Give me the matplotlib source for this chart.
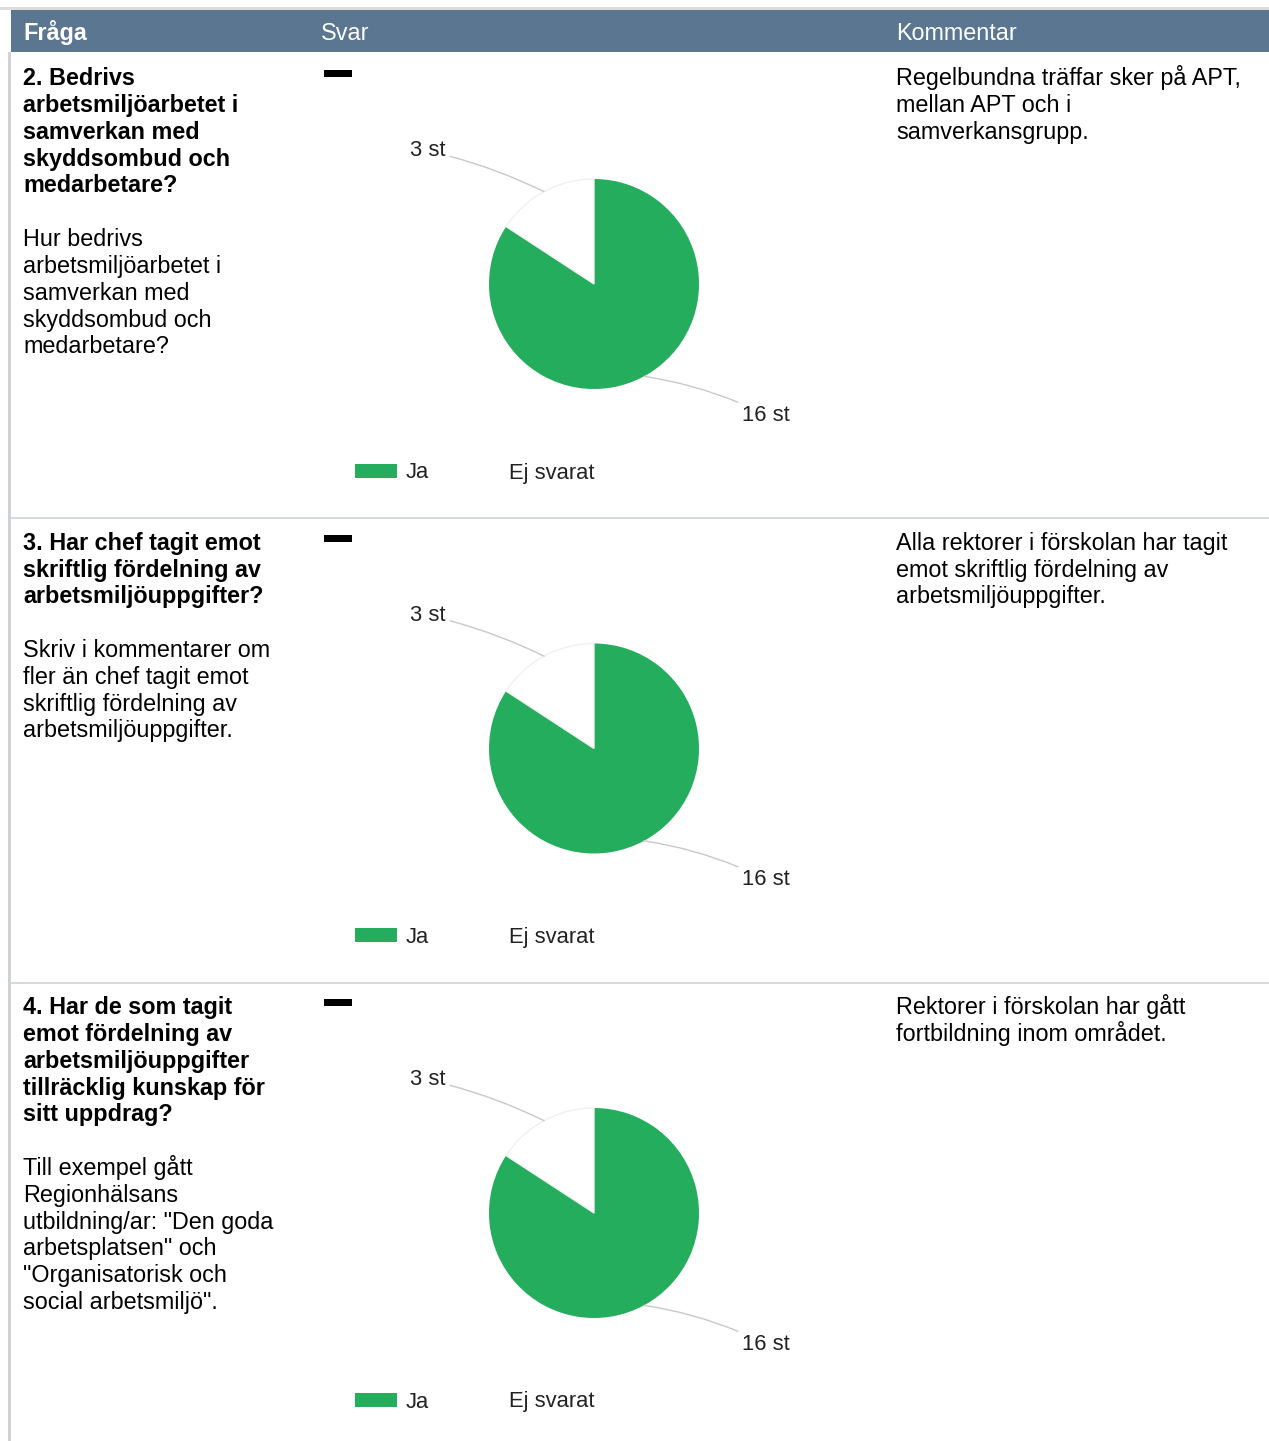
"""
Survey table: three questions, each with a pie chart of answers (Ja / Ej svarat)
and a free-text comment. Drawn in pixel layout on a 1269x1441 figure.
"""
import matplotlib.pyplot as plt
from matplotlib.patches import Rectangle, Patch
import numpy as np

W, H = 1269, 1441
DPI = 100

# --- data -------------------------------------------------------------------
headers = ['Fråga', 'Svar', 'Kommentar']
answer_labels = ['Ja', 'Ej svarat']
counts_ja = [16, 16, 16]
counts_ej = [3, 3, 3]
value_suffix = ' st'

question_titles = [
    ['2. Bedrivs', 'arbetsmiljöarbetet i', 'samverkan med',
     'skyddsombud och', 'medarbetare?'],
    ['3. Har chef tagit emot', 'skriftlig fördelning av',
     'arbetsmiljöuppgifter?'],
    ['4. Har de som tagit', 'emot fördelning av', 'arbetsmiljöuppgifter',
     'tillräcklig kunskap för', 'sitt uppdrag?'],
]
question_help = [
    ['Hur bedrivs', 'arbetsmiljöarbetet i', 'samverkan med',
     'skyddsombud och', 'medarbetare?'],
    ['Skriv i kommentarer om', 'fler än chef tagit emot',
     'skriftlig fördelning av', 'arbetsmiljöuppgifter.'],
    ['Till exempel gått', 'Regionhälsans', 'utbildning/ar: "Den goda',
     'arbetsplatsen" och', '"Organisatorisk och', 'social arbetsmiljö".'],
]
comments = [
    ['Regelbundna träffar sker på APT,', 'mellan APT och i',
     'samverkansgrupp.'],
    ['Alla rektorer i förskolan har tagit', 'emot skriftlig fördelning av',
     'arbetsmiljöuppgifter.'],
    ['Rektorer i förskolan har gått', 'fortbildning inom området.'],
]

# --- style ------------------------------------------------------------------
FONT = 'Liberation Sans'
TXT_PT = 23.4 * 72 / DPI       # ~23 px body text
LINE = 26.8                     # px between lines
HEADER_BG = '#5a7690'
GREEN = '#25ad5e'
BORDER = '#cfd3d7'
CHART_PT = 22 * 72 / DPI
CHART_TXT = '#222222'

plt.rcParams['font.family'] = [FONT, 'DejaVu Sans']

fig = plt.figure(figsize=(W / DPI, H / DPI), dpi=DPI)
fig.patch.set_facecolor('white')


def fx(x):
    return x / W


def fy(y):
    return 1 - y / H


def rect(x0, y0, x1, y1, color):
    fig.patches.append(Rectangle((fx(x0), fy(y1)), fx(x1) - fx(x0), fy(y0) - fy(y1),
                                 transform=fig.transFigure, color=color, lw=0))


def lines_at(x, y_center, lines, weight='normal', color='black'):
    for i, s in enumerate(lines):
        fig.text(fx(x), fy(y_center + i * LINE + 8.3), s, fontsize=TXT_PT,
                 fontweight=weight, color=color, ha='left', va='baseline')


# table frame
rect(0, 7, W, 10, '#dcdcdc')
rect(11, 10, W, 52, HEADER_BG)
rect(8, 52, 11, H, BORDER)
for y in (517, 982):
    rect(11, y, W, y + 2, '#d6dade')

# header
header_x = [23, 321, 896]
for hx, h, wgt in zip(header_x, headers, ['bold', 'normal', 'normal']):
    fig.text(fx(hx), fy(32 + 8.3), h, fontsize=TXT_PT, fontweight=wgt,
             color='white', ha='left', va='baseline')

ROW_STEP = 464.5
R = 105
for i in range(3):
    off = i * ROW_STEP
    # question text
    first = 77 + off
    lines_at(23, first, question_titles[i], weight='bold')
    lines_at(23, first + (len(question_titles[i]) + 1) * LINE, question_help[i])
    # comment
    lines_at(896, first, comments[i])
    # collapse dash
    rect(324, 70 + off, 352, 77 + off, 'black')

    # pie
    cx, cy = 594, 284 + off
    ax = fig.add_axes([fx(cx - R), fy(cy + R), 2 * R / W, 2 * R / H])
    vals = [counts_ja[i], counts_ej[i]]
    wedges, _ = ax.pie(vals, colors=[GREEN, 'white'], startangle=90,
                       counterclock=False, radius=1,
                       wedgeprops=dict(linewidth=0))
    wedges[1].set_edgecolor('#f0f0f0')
    wedges[1].set_linewidth(1)
    ax.set_xlim(-1, 1)
    ax.set_ylim(-1, 1)
    ax.axis('off')

    # value labels with leader lines
    text_pos = [(1.41, -1.248, 'left'), (-1.41, 1.267, 'right')]
    for w, v, (tx, ty, ha) in zip(wedges, vals, text_pos):
        mid = np.deg2rad((w.theta1 + w.theta2) / 2)
        ex, ey = np.cos(mid), np.sin(mid)
        rad = 0.08 if ha == 'left' else -0.06
        ax.annotate(f'{v}{value_suffix}', xy=(ex, ey), xytext=(tx, ty),
                    ha=ha, va='center', fontsize=CHART_PT, color=CHART_TXT,
                    annotation_clip=False,
                    arrowprops=dict(arrowstyle='-', color='#c8c8c8', lw=1,
                                    shrinkA=1, shrinkB=0,
                                    connectionstyle=f'arc3,rad={rad}'))

    handles = [Patch(facecolor=GREEN, edgecolor='none'),
               Patch(facecolor='white', edgecolor='none')]
    ax.legend(handles, answer_labels, loc='center left', ncol=2, frameon=False,
              bbox_to_anchor=(fx(355), fy(473 + off)),
              bbox_transform=fig.transFigure, fontsize=CHART_PT,
              labelcolor=CHART_TXT, borderpad=0, borderaxespad=0,
              handlelength=1.9, handleheight=0.6, handletextpad=0.41,
              columnspacing=1.32)

fig.savefig('out.png', dpi=DPI)
